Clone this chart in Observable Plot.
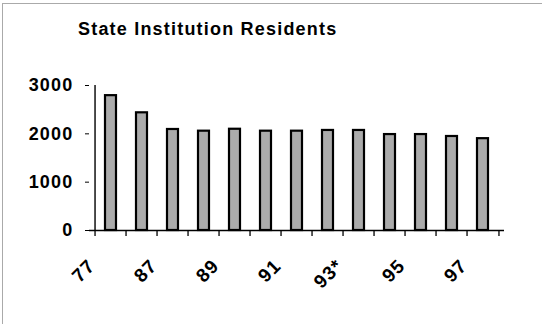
<!DOCTYPE html>
<html><head><meta charset="utf-8">
<script src="https://cdn.jsdelivr.net/npm/d3@7"></script>
<script src="https://cdn.jsdelivr.net/npm/@observablehq/plot@0.6"></script>
<style>
body{margin:0;background:#fff;}
#wrap{position:relative;width:542px;height:324px;overflow:hidden;}
#wrap svg{position:absolute;left:0;top:0;}
#title{position:absolute;left:78px;top:19px;z-index:2;font:bold 18px "Liberation Sans",Arial,sans-serif;letter-spacing:1.2px;color:#000;white-space:nowrap;}
#border{position:absolute;left:2px;top:3px;width:545px;height:330px;border-top:1px solid #aaa;border-left:1px solid #aaa;z-index:3;}
</style></head><body>
<div id="wrap"><div id="border"></div><div id="title">State Institution Residents</div></div>
<script>
const years = ["77","85","87","88","89","90","91","92","93*","94","95","96","97"];
const residents = [2790,2435,2090,2055,2095,2055,2055,2070,2070,1985,1985,1945,1900];
const yearLabels = ["77","87","89","91","93*","95","97"];
const yTicks = [0,1000,2000,3000];
const data = years.map((y,i)=>({year:y, value:residents[i]}));

const W=542,H=324, ml=89, mr=38, mt=85, mb=94;
const step = (W-ml-mr)/years.length;
const frameH = H-mt-mb;
const chart = Plot.plot({
  width:W, height:H, marginLeft:ml, marginRight:mr, marginTop:mt, marginBottom:mb,
  style:{fontFamily:'"Liberation Sans", Arial, sans-serif', fontWeight:'bold', fontSize:'18px', color:'#000', background:'transparent', letterSpacing:'1.2px'},
  x:{domain:years, paddingInner:0.64, paddingOuter:0.32},
  y:{domain:[0,3000]},
  marks:[
    Plot.barY(data,{x:"year",y:"value",fill:"#ababab",stroke:"#000",strokeWidth:2.2}),
    Plot.ruleY([0],{stroke:"#000",strokeWidth:1.6}),
    Plot.ruleX([years[0]],{dx:-step/2, stroke:"#000", strokeWidth:1.4}),
    Plot.ruleX(years,{dx:-step/2, insetTop:frameH, insetBottom:-6, stroke:"#000", strokeWidth:1.3}),
    Plot.ruleX([years[years.length-1]],{dx:step/2, insetTop:frameH, insetBottom:-6, stroke:"#000", strokeWidth:1.3}),
    Plot.axisY({ticks:yTicks, tickSize:4, tickPadding:12, label:null, fontSize:18, fontWeight:"bold", tickFormat:d=>String(d)}),
    Plot.axisX({ticks:yearLabels, tickSize:0, tickPadding:14, tickRotate:-45, label:null, fontSize:19, fontWeight:"bold", dx:-19, dy:18})
  ]
});
document.getElementById("wrap").appendChild(chart);
</script>
</body></html>
